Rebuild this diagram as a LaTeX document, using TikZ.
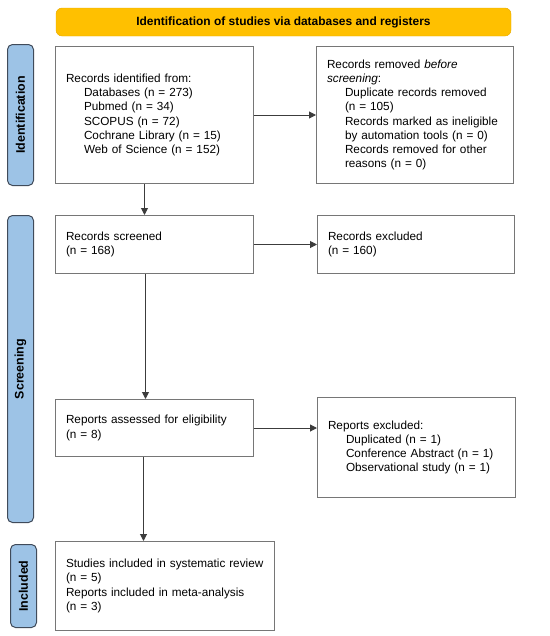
\documentclass[tikz,border=0pt]{standalone}
\usepackage{fontspec}
\setmainfont{Liberation Sans}
\usepackage{xcolor}
\usepackage{graphicx}
\usetikzlibrary{arrows.meta,positioning}
\definecolor{bannerorange}{RGB}{255,192,0}
\definecolor{bannerline}{RGB}{230,170,0}
\definecolor{phaseblue}{RGB}{157,195,230}
\definecolor{phaseline}{RGB}{64,75,90}
\definecolor{boxgray}{RGB}{118,118,118}
\definecolor{arrgray}{RGB}{60,60,60}
\newcommand{\ind}{\hspace*{18bp}}
\newcommand{\vlabel}[1]{\rotatebox{90}{#1}}

\begin{document}
\begin{tikzpicture}[
  rec/.style={rectangle, draw=boxgray, line width=1bp, fill=white,
    minimum width=#1, text width=#1-21bp, inner xsep=10.5bp, align=left,
    font=\fontsize{11.8}{14.3}\selectfont},
  rec/.default=198bp,
  phase/.style={rectangle, rounded corners=5pt, draw=phaseline, fill=phaseblue,
    line width=1bp, minimum width=26bp, inner sep=0pt,
    font=\fontsize{12.5}{14}\selectfont\bfseries},
  banner/.style={rectangle, rounded corners=6pt, draw=bannerline, fill=bannerorange,
    minimum width=455bp, minimum height=28bp, font=\fontsize{12}{14}\selectfont\bfseries},
  arr/.style={-{Triangle[length=7bp,width=7bp]}, arrgray, line width=1bp}]
\useasboundingbox (0,0) rectangle (550bp,-636bp);
\node[banner] (hdr) at (283.5bp,-22bp) {Identification of studies via databases and registers};
\node[rec, minimum height=137bp, anchor=north west] (ident) at (55bp,-46bp)
  {Records identified from:\\
   \ind Databases (n = 273)\\
   \ind Pubmed (n = 34)\\
   \ind SCOPUS (n = 72)\\
   \ind Cochrane Library (n = 15)\\
   \ind Web of Science (n = 152)};
\node[rec=197bp, minimum height=137bp, right=62bp of ident] (removed)
  {Records removed \textit{before}\\ \textit{screening}:\\
   \ind Duplicate records removed\\
   \ind (n = 105)\\
   \ind Records marked as ineligible\\
   \ind by automation tools (n = 0)\\
   \ind Records removed for other\\
   \ind reasons (n = 0)};
\node[rec, minimum height=58bp, below=31bp of ident] (screened)
  {Records screened\\(n = 168)};
\node[rec=197bp, minimum height=58bp, right=63bp of screened] (excluded)
  {Records excluded\\(n = 160)};
\node[rec, minimum height=57bp, below=125bp of screened] (assessed)
  {Reports assessed for eligibility\\(n = 8)};
\node[rec, minimum height=100bp, below=123bp of excluded.south west, anchor=north west] (repexcl)
  {Reports excluded:\\
   \ind Duplicated (n = 1)\\
   \ind Conference Abstract (n = 1)\\
   \ind Observational study (n = 1)};
\node[rec=219bp, minimum height=89bp, below=84bp of assessed.south west, anchor=north west] (included)
  {Studies included in systematic review\\(n = 5)\\
   Reports included in meta-analysis\\(n = 3)};
% phase labels on the left
\node[phase, minimum height=141bp, left=21bp of ident] (idlab) {\vlabel{Identification}};
\node[phase, minimum height=307bp, below=29bp of idlab] (scrlab) {\vlabel{Screening}};
\node[phase, minimum height=83bp, left=18bp of included] (inclab) {\vlabel{Included}};
% arrows
\draw[arr] (ident) -- (removed);
\draw[arr] (screened) -- (excluded);
\draw[arr] (assessed.east) -- (assessed.east -| repexcl.west);
\draw[arr] ([xshift=-10bp]ident.south) -- ([xshift=-10bp]screened.north);
\draw[arr] ([xshift=-9bp]screened.south) -- ([xshift=-9bp]assessed.north);
\draw[arr] ([xshift=-11bp]assessed.south) -- ([xshift=-11bp]assessed.south |- included.north);
\end{tikzpicture}
\end{document}
